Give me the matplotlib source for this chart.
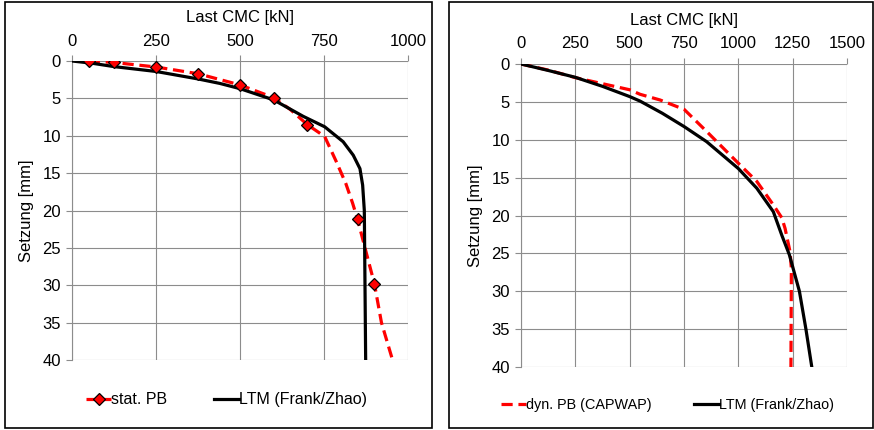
import matplotlib.pyplot as plt
from matplotlib.patches import Rectangle

plt.rcParams['font.family'] = ['Liberation Sans', 'DejaVu Sans']

# left panel: static load test (stat. PB) vs. LTM
stat_last = [50, 125, 250, 375, 500, 600, 700, 850, 900]
stat_setz = [0.0, 0.2, 0.8, 1.7, 3.2, 4.9, 8.5, 21.2, 29.8]
# dashed trace through the measured points (Excel smoothed line)
stat_line_last = [50, 125, 250, 375, 500, 600, 650, 700, 752, 787, 815, 835, 850, 872, 900, 921, 954]
stat_line_setz = [0.0, 0.2, 0.8, 1.7, 3.2, 4.9, 6.5, 8.5, 10.1, 13.5, 16.4, 19.0, 21.2, 25.0, 29.8, 35.0, 40.0]
ltm1_last = [0, 60, 125, 250, 375, 440, 500, 600, 688, 752, 807, 837, 857, 865, 870, 872, 874]
ltm1_setz = [0.0, 0.3, 0.75, 1.4, 2.4, 3.0, 3.7, 5.2, 7.4, 8.8, 10.8, 12.6, 14.4, 16.6, 20.0, 30.0, 40.0]

# right panel: dynamic load test (CAPWAP) vs. LTM
dyn_last = [0, 125, 250, 375, 500, 548, 640, 751, 854, 1000, 1085, 1161, 1200, 1215, 1238, 1244, 1242]
dyn_setz = [0.0, 0.8, 1.8, 2.6, 3.4, 4.0, 4.75, 6.0, 8.9, 13.1, 15.5, 18.6, 20.3, 21.7, 24.8, 27.0, 40.0]
ltm2_last = [0, 125, 250, 375, 500, 548, 650, 751, 854, 1000, 1085, 1161, 1200, 1235, 1281, 1311, 1338]
ltm2_setz = [0.0, 0.85, 1.76, 2.95, 4.3, 4.9, 6.5, 8.27, 10.25, 13.8, 16.4, 19.5, 22.6, 25.2, 30.0, 35.0, 40.0]

fig = plt.figure(figsize=(8.74, 4.30), dpi=100)
ax1 = fig.add_axes([72 / 874, 1 - 360 / 430, 336 / 874, 299 / 430])
ax2 = fig.add_axes([521 / 874, 1 - 367 / 430, 326 / 874, 303 / 430])

red = '#ff0000'
dash = (3.5, 1.8)

ax1.plot(stat_line_last, stat_line_setz, color=red, lw=2.3, dashes=dash, zorder=3)
ax1.plot(stat_last, stat_setz, ls='none', marker='D', ms=6, mfc=red, mec='black', mew=0.9, zorder=4)
ax1.plot(ltm1_last, ltm1_setz, color='black', lw=2.3, zorder=3)
h_stat, = ax1.plot([], [], color=red, lw=2.3, dashes=dash, marker='D', ms=6, mfc=red, mec='black', mew=0.9)
h_ltm1, = ax1.plot([], [], color='black', lw=2.3)

h_dyn, = ax2.plot(dyn_last, dyn_setz, color=red, lw=2.3, dashes=dash, zorder=3)
h_ltm2, = ax2.plot(ltm2_last, ltm2_setz, color='black', lw=2.3, zorder=3)

for ax, xmax in ((ax1, 1000), (ax2, 1500)):
    ax.set_xlim(0, xmax)
    ax.set_ylim(40, 0)
    ax.set_xticks(range(0, xmax + 1, 250))
    ax.set_yticks(range(0, 41, 5))
    ax.xaxis.tick_top()
    ax.xaxis.set_label_position('top')
    ax.grid(True, color='#8c8c8c', lw=0.8)
    ax.set_axisbelow(True)
    for s in ('top', 'right', 'bottom'):
        ax.spines[s].set_visible(False)
    ax.spines['left'].set_color('#8c8c8c')
    ax.spines['left'].set_linewidth(0.8)
    ax.tick_params(axis='both', labelsize=12, length=4, color='#8c8c8c', width=0.8)
    ax.tick_params(axis='x', pad=5)
    ax.tick_params(axis='y', pad=4)
    ax.set_xlabel('Last CMC [kN]', fontsize=12, labelpad=8)
    ax.set_ylabel('Setzung [mm]', fontsize=12, labelpad=6)

ax1.legend([h_stat, h_ltm1], ['stat. PB', 'LTM (Frank/Zhao)'], loc='upper center',
           bbox_to_anchor=(0.46, -0.06), ncol=2, frameon=False, fontsize=11.5,
           handlelength=1.6, handletextpad=0.0, columnspacing=2.9)
ax2.legend([h_dyn, h_ltm2], ['dyn. PB (CAPWAP)', 'LTM (Frank/Zhao)'], loc='upper center',
           bbox_to_anchor=(0.449, -0.06), ncol=2, frameon=False, fontsize=10.4,
           handlelength=1.75, handletextpad=0.0, columnspacing=2.9)

# panel frames
fig.add_artist(Rectangle((5 / 874, 2 / 430), 427 / 874, 426 / 430, transform=fig.transFigure,
                         fill=False, edgecolor='black', lw=1.2))
fig.add_artist(Rectangle((449 / 874, 2 / 430), 424 / 874, 426 / 430, transform=fig.transFigure,
                         fill=False, edgecolor='black', lw=1.2))

fig.savefig('out.png', dpi=100)
